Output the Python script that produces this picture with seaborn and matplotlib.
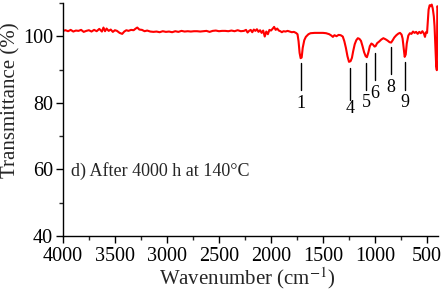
import numpy as np
import pandas as pd
import seaborn as sns
import matplotlib.pyplot as plt
from matplotlib.ticker import MultipleLocator

# FTIR spectrum (wavenumber in cm-1, transmittance in %)
wavenumber = [4000, 3975, 3950, 3925, 3900, 3875, 3850, 3825, 3800, 3775, 3750, 3725,
              3700, 3675, 3650, 3625, 3610, 3595, 3580, 3560, 3540, 3520, 3500, 3480,
              3455, 3430, 3410, 3390, 3370, 3345, 3320, 3300, 3285, 3265, 3240, 3215,
              3190, 3160, 3130, 3100, 3070, 3040, 3010, 2980, 2950, 2920, 2890, 2860,
              2830, 2800, 2770, 2740, 2710, 2680, 2650, 2620, 2590, 2560, 2530, 2500,
              2470, 2440, 2410, 2380, 2350, 2320, 2290, 2260, 2240, 2225, 2210, 2195,
              2180, 2165, 2150, 2135, 2120, 2105, 2090, 2075, 2060, 2045, 2030, 2015,
              2000, 1985, 1970, 1955, 1940, 1925, 1910, 1895, 1880, 1860, 1840, 1820,
              1800, 1780, 1760, 1745, 1735, 1725, 1715, 1705, 1695, 1680, 1665, 1640,
              1620, 1580, 1540, 1500, 1470, 1440, 1420, 1405, 1390, 1370, 1350, 1330,
              1310, 1295, 1280, 1265, 1250, 1235, 1222, 1210, 1195, 1180, 1165, 1150,
              1135, 1120, 1105, 1090, 1078, 1065, 1050, 1035, 1020, 1005, 995, 980,
              960, 940, 920, 900, 880, 860, 845, 830, 815, 795, 775, 760,
              745, 735, 725, 715, 705, 695, 680, 665, 650, 635, 620, 605,
              590, 575, 560, 545, 530, 520, 510, 500, 492, 485, 475, 465,
              455, 445, 435, 428, 420, 412, 406, 401, 397]
transmittance = [101.6, 101.8, 101.5, 101.9, 101.4, 101.7, 101.6, 101.9, 101.3, 101.6, 101.8, 101.4,
                 101.9, 101.5, 102.2, 101.4, 102.6, 101.5, 102.3, 101.6, 102.0, 101.3, 101.8, 101.6,
                 101.0, 100.7, 101.4, 101.8, 101.6, 101.9, 101.8, 102.3, 102.6, 102.0, 101.9, 101.5,
                 101.7, 101.4, 101.3, 101.4, 101.2, 101.5, 101.3, 101.4, 101.2, 101.5, 101.3, 101.6,
                 101.4, 101.5, 101.4, 101.5, 101.5, 101.4, 101.5, 101.6, 101.3, 101.6, 101.7, 101.5,
                 101.6, 101.6, 101.5, 101.7, 101.5, 101.8, 101.5, 101.6, 101.9, 101.1, 101.6, 101.9,
                 101.2, 102.0, 101.6, 102.1, 101.3, 101.8, 101.0, 101.7, 99.9, 101.4, 100.6, 101.9,
                 101.7, 102.2, 102.8, 101.9, 102.3, 101.7, 101.5, 101.2, 101.5, 101.4, 101.6, 101.4,
                 101.2, 101.3, 101.0, 100.6, 98.5, 95.0, 93.4, 93.6, 96.5, 98.8, 99.8, 100.6,
                 100.9, 101.0, 101.0, 101.0, 100.9, 100.6, 100.2, 99.8, 100.3, 100.0, 100.4, 100.3,
                 99.9, 98.5, 96.5, 94.0, 92.3, 92.5, 93.5, 95.5, 97.6, 98.8, 99.4, 99.2,
                 98.6, 97.0, 95.2, 94.0, 93.7, 95.0, 97.0, 97.8, 97.5, 96.9, 97.0, 97.9,
                 98.4, 99.0, 99.4, 99.1, 98.7, 98.2, 98.1, 98.8, 99.6, 100.3, 100.8, 101.0,
                 100.5, 99.3, 96.5, 93.8, 94.5, 97.8, 100.2, 100.9, 100.7, 101.4, 101.0, 101.3,
                 100.7, 101.3, 100.9, 101.5, 100.8, 99.8, 101.2, 101.0, 105.0, 108.0, 109.3, 109.0,
                 109.5, 108.3, 106.0, 103.0, 97.0, 91.0, 89.8, 109.0, 108.8]

# peak markers: number, wavenumber, tick line top/bottom, label height
peak_names = ["1", "4", "5", "6", "8", "9"]
peak_pos = [1712, 1240, 1087, 1000, 846, 712]
line_top = [91.9, 90.4, 91.9, 94.9, 96.7, 92.2]
line_bottom = [83.8, 80.8, 83.8, 86.8, 88.6, 83.8]
label_y = [79.9, 78.2, 80.2, 82.9, 84.7, 80.0]

df = pd.DataFrame({"wn": wavenumber, "T": transmittance})

sns.set_style("ticks")
plt.rcParams['font.family'] = ['Liberation Serif', 'DejaVu Serif']
plt.rcParams['mathtext.fontset'] = 'stix'

fig = plt.figure(figsize=(4.46, 2.91), dpi=100)
ax = fig.add_axes([0.141, 0.189, 0.841, 0.801])

sns.lineplot(data=df, x="wn", y="T", ax=ax, color="red", linewidth=1.5,
             sort=False, estimator=None)

for name, x, top, bot, ly in zip(peak_names, peak_pos, line_top, line_bottom, label_y):
    ax.plot([x, x], [top, bot], color="black", linewidth=1)
    ax.text(x, ly, name, ha="center", va="center", fontsize=13, color="black")

ax.text(3925, 59.5, "d) After 4000 h at 140°C", ha="left", va="center", fontsize=13)

ax.set_xlim(4000, 395)
ax.set_ylim(40, 110)
ax.set_xticks([4000, 3500, 3000, 2500, 2000, 1500, 1000, 500])
ax.set_yticks([40, 60, 80, 100])
ax.xaxis.set_minor_locator(MultipleLocator(250))
ax.yaxis.set_minor_locator(MultipleLocator(10))
ax.tick_params(which="major", direction="out", length=5, width=1, labelsize=14.5, colors="black")
ax.tick_params(axis="y", which="major", pad=2)
ax.tick_params(axis="x", which="major", pad=3)
ax.tick_params(which="minor", direction="out", length=3, width=1)
ax.set_xlabel("Wavenumber (cm$^{-1}$)", fontsize=15)
ax.xaxis.set_label_coords(0.493, -0.125)
ax.set_ylabel("")
# y label placed as figure text so it sits at the far left edge like the original
fig.text(11 / 446, 1 - 100 / 291, "Transmittance (%)", rotation=90,
         ha="center", va="center", fontsize=15)
for s in ["left", "bottom"]:
    ax.spines[s].set_linewidth(1)
    ax.spines[s].set_color("black")
sns.despine(ax=ax)

fig.savefig("out.png", dpi=100)
